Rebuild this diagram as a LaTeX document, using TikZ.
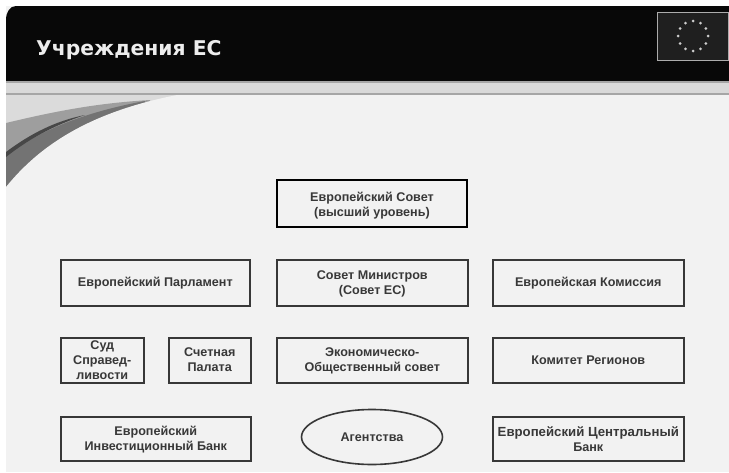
\documentclass[tikz,border=0pt]{standalone}
\usepackage{fontspec}
\usetikzlibrary{calc,shapes.geometric}
\setmainfont{Liberation Sans}
\newfontfamily\titlefont{DejaVu Sans}
\definecolor{pagebg}{gray}{0.95}
\definecolor{boxline}{gray}{0.22}
\definecolor{swlight}{gray}{0.86}
\definecolor{swmid}{gray}{0.62}
\definecolor{swdark}{gray}{0.45}
\definecolor{swstreak}{gray}{0.28}
\tikzset{
  x=1pt,y=-1pt,
  orgbox/.style={draw=boxline,line width=1.6pt,fill=pagebg,align=center,font=\fontsize{12.6}{15}\selectfont\bfseries,text=black!78,inner sep=0pt},
  strongbox/.style={orgbox,draw=black,line width=2pt},
  flagstar/.style={circle,fill=white!80!black,inner sep=0pt,minimum size=3pt}
}
\newcommand{\obox}[7][orgbox]{\node[#1,minimum width=#4pt,minimum height=#5pt,anchor=north west] (#2) at (#3) {#6};}
\newcommand{\dn}[2]{\raisebox{-#1pt}[\height][\depth]{\begin{tabular}{@{}c@{}}#2\end{tabular}}}
\begin{document}
\begin{tikzpicture}
\useasboundingbox (0,0) rectangle (729,472);
\fill[pagebg] (0,0) rectangle (729,472);
\fill[white] (0,0) rectangle (729,6);
\fill[black!97] (16,6) -- (729,6) -- (729,81) -- (6,81) -- (6,20) .. controls (6,12) and (10,6) .. (16,6) -- cycle;
\fill[white] (0,0) rectangle (6,472);
\fill[pagebg] (6,94) rectangle (729,472);
\fill[gray!30] (6,81) rectangle (729,94);
\fill[gray!70] (6,81) rectangle (729,82.5);
\fill[gray!70] (6,93) rectangle (729,95);
% swoosh
\fill[swlight] (6,95) -- (185,95) -- (6,190) -- cycle;
\fill[swmid] (6,123) .. controls (60,110) and (100,103) .. (150,100) -- (150,130) -- (6,190) -- cycle;
\fill[swdark] (6,156) .. controls (40,130) and (85,112) .. (145,101) -- (145,130) -- (6,190) -- cycle;
\fill[swstreak] (6,157) .. controls (30,138) and (55,125) .. (85,115) .. controls (55,121) and (30,134) .. (6,152) -- cycle;
\fill[pagebg] (6,187) .. controls (40,145) and (90,112) .. (177,95) -- (300,95) -- (300,195) -- (6,195) -- cycle;
\node[anchor=west,font=\titlefont\fontsize{20.3}{24}\selectfont\bfseries,text=white!93!black,inner sep=0pt] (title) at (36,50.5) {Учреждения ЕС};
% flag
\node[draw=gray!65,line width=1.2pt,fill=black!88,minimum width=71pt,minimum height=48pt,anchor=north west,inner sep=0pt] (flag) at (657,12) {};
\foreach \a in {0,30,...,330} \node[flagstar] at ($(693,36)+(\a:15pt)$) {};
% boxes
\obox[strongbox]{council}{276,179}{190}{47}{\dn{2}{Европейский Совет\\(высший уровень)}}{}
\obox{parl}{60,259}{189}{46}{\dn{1}{Европейский Парламент}}{}
\obox{min}{276,259}{191}{46}{\dn{1}{Совет Министров\\(Совет ЕС)}}{}
\obox{comm}{492,259}{191}{46}{\dn{1}{Европейская Комиссия}}{}
\obox{court}{60,337}{83}{45}{\fontsize{12.6}{14}\selectfont Суд\\Справед-\\ливости}{}
\obox{audit}{168,337}{82}{45}{\dn{0.5}{Счетная\\Палата}}{}
\obox{eco}{276,337}{191}{45}{\dn{1}{Экономическо-\\Общественный совет}}{}
\obox{reg}{492,337}{191}{45}{\dn{1}{Комитет Регионов}}{}
\obox{eib}{60,416}{190}{44}{\dn{1.5}{Европейский\\Инвестиционный Банк}}{}
\node[orgbox,ellipse,minimum width=141pt,minimum height=55pt] (agen) at (372,437) {Агентства};
\obox{ecb}{492,416}{191}{44}{\fontsize{13.2}{15}\selectfont Европейский Центральный\\Банк}{}
\end{tikzpicture}
\end{document}
